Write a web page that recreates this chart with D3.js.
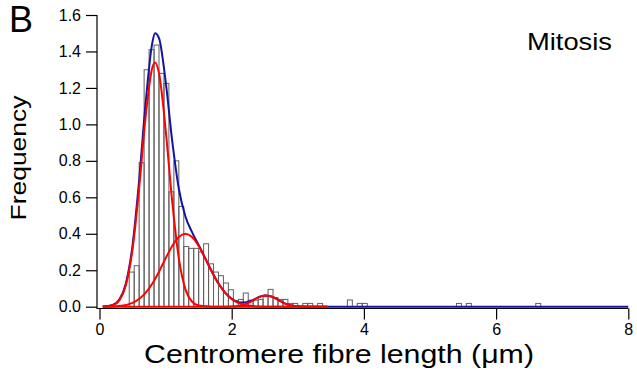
<!DOCTYPE html>
<html>
<head>
<meta charset="utf-8">
<script src="https://cdn.jsdelivr.net/npm/d3@7"></script>
<style>
  body { margin: 0; background: #fff; }
  text { font-family: "Liberation Sans", Arial, sans-serif; }
</style>
</head>
<body>
<div id="chart"></div>
<script>
// histogram bins (left edge, width 0.075 um) and frequency
const binWidth = 0.075;
const binLeft = [0.45, 0.525, 0.60, 0.675, 0.75, 0.825, 0.90, 0.975, 1.05, 1.125,
                 1.20, 1.275, 1.35, 1.425, 1.50, 1.575, 1.65, 1.725, 1.80, 1.875,
                 1.95, 2.025, 2.10, 2.175, 2.25, 2.325, 2.40, 2.475, 2.55, 2.625,
                 2.70, 2.775, 2.85, 2.925, 3.075, 3.15, 3.30, 3.75, 3.90, 3.975,
                 5.40, 5.55, 6.60];
const binFreq = [0.19, 0.225, 0.79, 1.30, 1.41, 1.435, 1.28, 1.225, 0.63, 0.80,
                 0.55, 0.33, 0.32, 0.32, 0.30, 0.345, 0.235, 0.19, 0.17, 0.13,
                 0.093, 0.033, 0.04, 0.075, 0.036, 0.036, 0.04, 0.055, 0.095, 0.05,
                 0.04, 0.04, 0.018, 0.018, 0.018, 0.018, 0.018, 0.037, 0.018, 0.018,
                 0.018, 0.018, 0.018];

// fitted curves
const fit1X = [0.05, 0.2, 0.3, 0.4, 0.5, 0.6, 0.7, 0.8, 0.84, 0.9, 1.0, 1.1, 1.2, 1.3, 1.4, 1.5, 1.7, 2.0, 3.45];
const fit1Y = [0.0005, 0.008, 0.035, 0.119, 0.316, 0.652, 1.049, 1.313, 1.34, 1.281, 0.973, 0.576, 0.265, 0.095, 0.027, 0.006, 0, 0, 0];

const fit2X = [0.05, 0.3, 0.5, 0.7, 0.8, 0.9, 1.0, 1.1, 1.2, 1.3, 1.4, 1.5, 1.6, 1.7, 1.8, 1.9, 2.0, 2.1, 2.2, 2.4, 2.6, 3.45];
const fit2Y = [0.0003, 0.004, 0.021, 0.077, 0.127, 0.192, 0.265, 0.333, 0.382, 0.40, 0.382, 0.333, 0.265, 0.192, 0.127, 0.077, 0.042, 0.021, 0.0097, 0.0015, 0.0002, 0];

const fit3X = [0.05, 1.9, 2.0, 2.1, 2.2, 2.3, 2.4, 2.5, 2.52, 2.6, 2.7, 2.8, 2.9, 3.0, 3.1, 3.45];
const fit3Y = [0, 0.0002, 0.001, 0.004, 0.0128, 0.029, 0.050, 0.0616, 0.062, 0.056, 0.0376, 0.0185, 0.0067, 0.0018, 0.0003, 0];

const sumX = [0.05, 0.2, 0.3, 0.4, 0.5, 0.6, 0.7, 0.8, 0.84, 0.9, 1.0, 1.1, 1.2, 1.3, 1.4, 1.5, 1.6, 1.7, 1.8, 1.9,
              2.0, 2.1, 2.2, 2.3, 2.4, 2.5, 2.6, 2.7, 2.8, 2.9, 3.0, 3.2, 8.0];
const sumY = [0.001, 0.0095, 0.039, 0.129, 0.337, 0.694, 1.126, 1.45, 1.50, 1.473, 1.238, 0.909, 0.647, 0.495, 0.409, 0.339, 0.265, 0.192, 0.127, 0.077,
              0.043, 0.025, 0.0225, 0.033, 0.0515, 0.062, 0.056, 0.038, 0.0185, 0.0067, 0.0018, 0, 0];

const xTicks = [0, 2, 4, 6, 8];
const yTicks = [0, 0.2, 0.4, 0.6, 0.8, 1.0, 1.2, 1.4, 1.6];

const width = 637, height = 384;

const svg = d3.select("#chart")
    .append("svg")
    .attr("width", width)
    .attr("height", height);

const xScale = d3.scaleLinear().domain([0, 8]).range([99.5, 628.3]);
const yScale = d3.scaleLinear().domain([0, 1.6]).range([306.7, 15]);

// histogram bars
svg.append("g")
    .selectAll("rect")
    .data(binLeft)
    .join("rect")
    .attr("x", d => xScale(d))
    .attr("y", (d, i) => yScale(binFreq[i]))
    .attr("width", d => xScale(d + binWidth) - xScale(d))
    .attr("height", (d, i) => yScale(0) - yScale(binFreq[i]))
    .attr("fill", "none")
    .attr("stroke", "#606060")
    .attr("stroke-width", 1);

const line = d3.line()
    .x(d => xScale(d[0]))
    .y(d => yScale(d[1]))
    .curve(d3.curveMonotoneX);

// sum of fits (blue) under the components (red)
svg.append("path")
    .attr("d", line(d3.zip(sumX, sumY)))
    .attr("fill", "none")
    .attr("stroke", "#1414a0")
    .attr("stroke-width", 2);

[[fit1X, fit1Y], [fit2X, fit2Y], [fit3X, fit3Y]].forEach(f => {
    svg.append("path")
        .attr("d", line(d3.zip(f[0], f[1])))
        .attr("fill", "none")
        .attr("stroke", "#ff0000")
        .attr("stroke-width", 2);
});

// axes
const yAxis = svg.append("g")
    .attr("transform", "translate(97,0)")
    .call(d3.axisLeft(yScale).tickValues(yTicks).tickFormat(d3.format(".1f")).tickSize(11).tickPadding(5));
const xAxis = svg.append("g")
    .attr("transform", "translate(0,308.5)")
    .call(d3.axisBottom(xScale).tickValues(xTicks).tickSize(11).tickPadding(4));

[yAxis, xAxis].forEach(a => {
    a.select(".domain").remove();
    a.selectAll("line").attr("stroke", "#000").attr("stroke-width", 1.2);
    a.selectAll("text")
        .attr("fill", "#000")
        .style("font-size", "16px")
        .style("font-family", "'Liberation Sans', Arial, sans-serif");
});

svg.append("path")
    .attr("d", `M97,${yScale(1.6)}V308.5H${xScale(8)}`)
    .attr("fill", "none")
    .attr("stroke", "#000")
    .attr("stroke-width", 1.2);

// labels (reference lettering is a bit wider than Liberation Sans)
svg.append("text")
    .attr("x", 339)
    .attr("y", 363)
    .attr("text-anchor", "middle")
    .attr("textLength", 390)
    .attr("lengthAdjust", "spacingAndGlyphs")
    .style("font-size", "25px")
    .text("Centromere fibre length (μm)");

svg.append("text")
    .attr("transform", "rotate(-90)")
    .attr("x", -158)
    .attr("y", 26)
    .attr("text-anchor", "middle")
    .attr("textLength", 125)
    .attr("lengthAdjust", "spacingAndGlyphs")
    .style("font-size", "22px")
    .text("Frequency");

svg.append("text")
    .attr("x", 612)
    .attr("y", 50)
    .attr("text-anchor", "end")
    .attr("textLength", 85)
    .attr("lengthAdjust", "spacingAndGlyphs")
    .style("font-size", "24px")
    .text("Mitosis");

svg.append("text")
    .attr("x", 9)
    .attr("y", 32)
    .style("font-size", "36px")
    .text("B");
</script>
</body>
</html>
